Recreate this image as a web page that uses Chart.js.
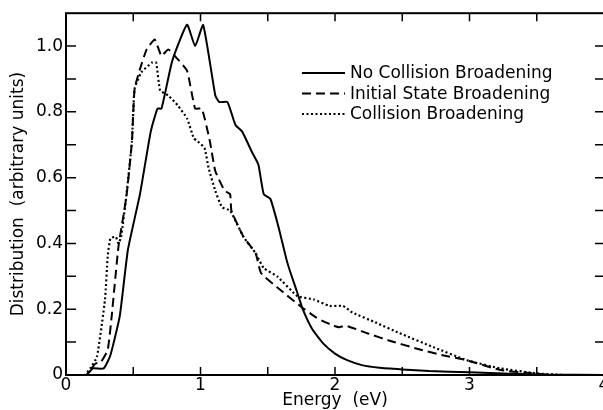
<!DOCTYPE html>
<html>
<head>
<meta charset="utf-8">
<script src="https://cdn.jsdelivr.net/npm/chart.js@4.4.1/dist/chart.umd.min.js"></script>
<style>
  html, body { margin: 0; padding: 0; background: #fff; overflow: hidden; }
  #canvas { display: block; }
</style>
</head>
<body>
<canvas id="canvas" width="610" height="410"></canvas>
<script>
// values
var seriesNames = ['No Collision Broadening', 'Initial State Broadening', 'Collision Broadening'];

var noCollisionE = [0, 0.15, 0.2, 0.28, 0.33, 0.40, 0.46, 0.55, 0.63, 0.68, 0.71, 0.79, 0.90, 0.96, 1.02, 1.11, 1.14, 1.20, 1.26, 1.31, 1.38, 1.43, 1.47, 1.52, 1.58, 1.64, 1.67, 1.72, 1.76, 1.83, 1.91, 2.0, 2.09, 2.2, 2.33, 2.5, 2.7, 3.0, 3.3, 3.6, 4.0];
var noCollisionD = [0, 0, 0.02, 0.02, 0.06, 0.18, 0.38, 0.55, 0.74, 0.81, 0.81, 0.955, 1.065, 1.0, 1.064, 0.85, 0.83, 0.83, 0.76, 0.74, 0.68, 0.64, 0.55, 0.535, 0.45, 0.35, 0.31, 0.25, 0.20, 0.14, 0.097, 0.065, 0.045, 0.03, 0.022, 0.017, 0.012, 0.008, 0.004, 0.001, 0];

var initialE = [0, 0.15, 0.19, 0.22, 0.26, 0.31, 0.34, 0.39, 0.45, 0.49, 0.51, 0.55, 0.60, 0.66, 0.71, 0.76, 0.82, 0.90, 0.96, 1.01, 1.07, 1.11, 1.18, 1.22, 1.23, 1.32, 1.41, 1.45, 1.59, 1.74, 1.86, 1.93, 1.99, 2.03, 2.08, 2.24, 2.4, 2.61, 2.8, 2.98, 3.23, 3.47, 3.6, 4.0];
var initialD = [0, 0, 0.02, 0.035, 0.04, 0.076, 0.18, 0.39, 0.545, 0.71, 0.87, 0.93, 0.99, 1.02, 0.97, 0.99, 0.965, 0.925, 0.81, 0.81, 0.71, 0.62, 0.56, 0.55, 0.50, 0.42, 0.37, 0.31, 0.26, 0.21, 0.175, 0.16, 0.15, 0.145, 0.15, 0.127, 0.105, 0.08, 0.06, 0.045, 0.015, 0.005, 0, 0];

var collisionE = [0, 0.14, 0.18, 0.23, 0.29, 0.31, 0.33, 0.37, 0.39, 0.41, 0.45, 0.49, 0.51, 0.56, 0.64, 0.67, 0.70, 0.76, 0.83, 0.90, 0.95, 0.98, 1.03, 1.06, 1.11, 1.16, 1.22, 1.32, 1.41, 1.47, 1.57, 1.72, 1.84, 1.96, 2.06, 2.13, 2.3, 2.48, 2.73, 2.98, 3.23, 3.5, 3.7, 4.0];
var collisionD = [0, 0, 0.02, 0.055, 0.23, 0.36, 0.415, 0.42, 0.40, 0.42, 0.55, 0.71, 0.87, 0.92, 0.95, 0.95, 0.865, 0.85, 0.82, 0.78, 0.72, 0.71, 0.69, 0.63, 0.56, 0.51, 0.50, 0.42, 0.37, 0.325, 0.30, 0.24, 0.23, 0.21, 0.21, 0.19, 0.16, 0.127, 0.085, 0.045, 0.02, 0.005, 0, 0];

var xTicks = [0, 1, 2, 3, 4];
var yTicks = [0, 0.2, 0.4, 0.6, 0.8, 1.0];

function toPoints(xs, ys) {
  var pts = [];
  for (var i = 0; i < xs.length; i++) pts.push({x: xs[i], y: ys[i]});
  return pts;
}

var FONT = '"DejaVu Sans", sans-serif';

// inward tick marks on all four sides + frame
var framePlugin = {
  id: 'frame',
  afterDraw: function(chart) {
    var ctx = chart.ctx, a = chart.chartArea;
    var xs = chart.scales.x, ys = chart.scales.y;
    ctx.save();
    ctx.strokeStyle = '#000';
    ctx.lineWidth = 1.5;
    ctx.beginPath();
    for (var v = 0.5; v < 4; v += 0.5) {
      var px = xs.getPixelForValue(v);
      ctx.moveTo(px, a.bottom); ctx.lineTo(px, a.bottom - 8);
      ctx.moveTo(px, a.top); ctx.lineTo(px, a.top + 8);
    }
    for (var k = 1; k <= 10; k++) {
      var py = ys.getPixelForValue(k / 10);
      ctx.moveTo(a.left, py); ctx.lineTo(a.left + 10, py);
      ctx.moveTo(a.right, py); ctx.lineTo(a.right - 9, py);
    }
    ctx.stroke();
    ctx.lineWidth = 2;
    ctx.strokeRect(a.left, a.top, a.right - a.left, a.bottom - a.top);
    ctx.restore();
  }
};

// legend drawn inside the plot
var legendPlugin = {
  id: 'innerLegend',
  afterDatasetsDraw: function(chart) {
    var ctx = chart.ctx;
    ctx.save();
    ctx.font = '17px ' + FONT;
    ctx.fillStyle = '#000';
    ctx.textBaseline = 'middle';
    chart.data.datasets.forEach(function(ds, i) {
      var y = 73 + i * 20.5;
      ctx.strokeStyle = '#000';
      ctx.lineWidth = ds.borderWidth;
      ctx.setLineDash(ds.borderDash || []);
      ctx.beginPath();
      ctx.moveTo(302, y); ctx.lineTo(345, y);
      ctx.stroke();
      ctx.setLineDash([]);
      ctx.fillText(ds.label, 350, y + 1);
    });
    ctx.restore();
  }
};

window.onload = function() {
  var ctx = document.getElementById('canvas').getContext('2d');
  window.myChart = new Chart(ctx, {
    type: 'line',
    data: {
      datasets: [{
        label: seriesNames[0],
        data: toPoints(noCollisionE, noCollisionD),
        borderColor: '#000',
        borderWidth: 2,
        pointRadius: 0,
        tension: 0.15
      }, {
        label: seriesNames[1],
        data: toPoints(initialE, initialD),
        borderColor: '#000',
        borderWidth: 2,
        borderDash: [9, 5],
        pointRadius: 0,
        tension: 0.15
      }, {
        label: seriesNames[2],
        data: toPoints(collisionE, collisionD),
        borderColor: '#000',
        borderWidth: 2.2,
        borderDash: [2, 2.5],
        pointRadius: 0,
        tension: 0.15
      }]
    },
    options: {
      responsive: false,
      animation: false,
      layout: { padding: { top: 12, right: 6, left: 0, bottom: 0 } },
      plugins: {
        legend: { display: false },
        tooltip: { enabled: false }
      },
      scales: {
        x: {
          type: 'linear',
          min: 0,
          max: 4,
          afterBuildTicks: function(s) { s.ticks = xTicks.map(function(v) { return {value: v}; }); },
          afterFit: function(s) { s.height = 35; },
          grid: { display: false, drawTicks: false },
          border: { display: false },
          ticks: {
            color: '#000',
            font: { family: FONT, size: 17 },
            padding: 0,
            maxRotation: 0,
            callback: function(v) { return String(v); }
          },
          title: {
            display: true,
            text: 'Energy  (eV)',
            color: '#000',
            font: { family: FONT, size: 17 },
            padding: { top: 0, bottom: -1 }
          }
        },
        y: {
          min: 0,
          max: 1.1,
          afterBuildTicks: function(s) { s.ticks = yTicks.map(function(v) { return {value: v}; }); },
          afterFit: function(s) { s.width = 66; },
          grid: { display: false, drawTicks: false },
          border: { display: false },
          ticks: {
            color: '#000',
            font: { family: FONT, size: 17 },
            padding: 3,
            callback: function(v) { return v === 0 ? '0' : v.toFixed(1); }
          },
          title: {
            display: true,
            text: 'Distribution  (arbitrary units)',
            color: '#000',
            font: { family: FONT, size: 17 },
            padding: { top: 8, bottom: 0 }
          }
        }
      }
    },
    plugins: [framePlugin, legendPlugin]
  });
};
</script>
</body>
</html>
